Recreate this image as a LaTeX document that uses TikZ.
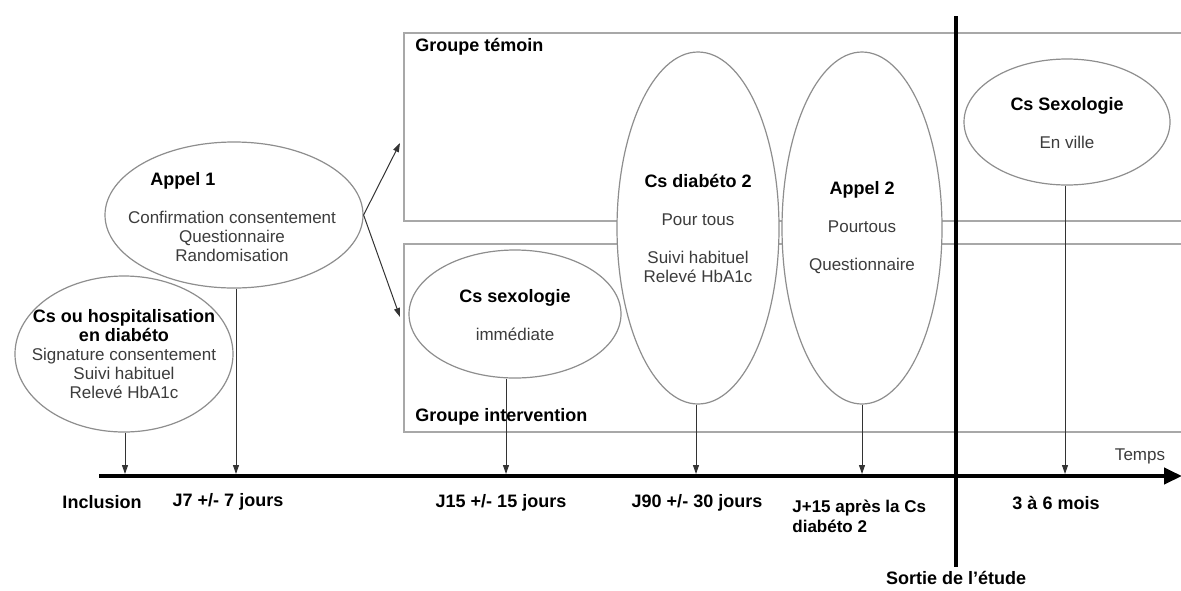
\documentclass[tikz,border=0pt]{standalone}
\usepackage{fontspec}
\setmainfont{Liberation Sans}
\usepackage{tikz}
\usetikzlibrary{calc}
\usetikzlibrary{shapes}
\usetikzlibrary{arrows.meta}

\definecolor{txtgray}{HTML}{3C3C3C}
\definecolor{linegray}{HTML}{8E8E8E}
\definecolor{boxgray}{HTML}{A8A8A8}

\newcommand{\ttl}[1]{{\fontsize{9}{10}\selectfont\bfseries\color{black}#1}}

\begin{document}
\begin{tikzpicture}[x=0.5pt, y=-0.5pt,
  evt/.style={ellipse, draw=linegray, line width=0.6pt, fill=white, inner sep=0pt},
  txt/.style={align=center, text=txtgray, inner sep=0pt, font=\fontsize{8.5}{9.5}\selectfont},
  grp/.style={draw=boxgray, line width=0.8pt, anchor=north west, inner sep=0pt},
  grplbl/.style={anchor=west, inner sep=0pt, font=\fontsize{9}{10}\selectfont\bfseries},
  when/.style={inner sep=0pt, font=\fontsize{9}{10}\selectfont\bfseries},
  tick/.style={draw=black!80, line width=0.5pt, -{Triangle[length=4.5pt,width=3pt]}},
  axis/.style={line width=2pt, -{Triangle[length=9pt,width=8pt]}}]
  \useasboundingbox (0,0) rectangle (1181,590);

  % groups
  \node[grp, minimum width=394pt, minimum height=94pt] (temoin) at (403,32) {};
  \node[grp, minimum width=394pt, minimum height=94pt] (inter) at (403,243) {};
  \node[grplbl] (temoinL) at (415,47) {Groupe témoin};
  \node[grplbl] (interL) at (415,417) {Groupe intervention};

  % time axis and end of study
  \coordinate (axS) at (99,476);
  \coordinate (axE) at (1182,476);
  \draw[axis] (axS) -- (axE);
  \coordinate (sorT) at (956,16);
  \coordinate (sorB) at (956,567);
  \draw[line width=2pt] (sorT) -- (sorB);
  \node[txt] (temps) at (1140,456) {Temps};

  % events
  \node[evt, minimum width=109pt, minimum height=78pt] (inc) at (124,354) {};
  \node[txt] (incT) at (124,354) {\ttl{Cs ou hospitalisation}\\\ttl{en diabéto}\\Signature consentement\\Suivi habituel\\Relevé HbA1c};
  \node[evt, minimum width=129pt, minimum height=73pt] (appelA) at (234,215) {};
  \node[txt] (appelAT) at (232,217) {\ttl{Appel 1}\hspace*{49pt}\\[9.5pt]Confirmation consentement\\Questionnaire\\Randomisation};
  \node[evt, minimum width=106pt, minimum height=64pt] (sexo) at (515,314) {};
  \node[txt] (sexoT) at (515,315) {\ttl{Cs sexologie}\\[9.5pt]immédiate};
  \node[evt, minimum width=81pt, minimum height=176pt] (diab) at (698,228) {};
  \node[txt] (diabT) at (698,228) {\ttl{Cs diabéto 2}\\[9.5pt]Pour tous\\[9.5pt]Suivi habituel\\Relevé HbA1c};
  \node[evt, minimum width=80pt, minimum height=176pt] (appelB) at (862,228) {};
  \node[txt] (appelBT) at (862,228) {\ttl{Appel 2}\\[9.5pt]Pourtous\\[9.5pt]Questionnaire};
  \node[evt, minimum width=103pt, minimum height=63pt] (ville) at (1067,122) {};
  \node[txt] (villeT) at (1067,123) {\ttl{Cs Sexologie}\\[9.5pt]En ville};

  % randomisation
  \coordinate (temoinIn) at (400,143);
  \coordinate (interIn) at (400,317);
  \draw[tick] (appelA.east) -- (temoinIn);
  \draw[tick] (appelA.east) -- (interIn);

  % events on the axis
  \coordinate (tInc) at (125,474);
  \coordinate (tJ7) at (236,474);
  \coordinate (tJ15) at (506,474);
  \coordinate (tJ90) at (696,474);
  \coordinate (tJ105) at (862,474);
  \coordinate (tM3) at (1065,474);
  \draw[tick] (inc.south -| tInc) -- (tInc);
  \draw[tick] (appelA.south -| tJ7) -- (tJ7);
  \draw[tick] (sexo.south -| tJ15) -- (tJ15);
  \draw[tick] (diab.south -| tJ90) -- (tJ90);
  \draw[tick] (appelB.south -| tJ105) -- (tJ105);
  \draw[tick] (ville.south -| tM3) -- (tM3);

  % dates
  \node[when] (incL) at (102,502) {Inclusion};
  \node[when] (j7L) at (228,502) {J7 +/- 7 jours};
  \node[when] (j15L) at (501,503) {J15 +/- 15 jours};
  \node[when] (j90L) at (697,503) {J90 +/- 30 jours};
  \node[when, anchor=west, align=left, font=\fontsize{8.5}{10}\selectfont\bfseries] (j105L) at (792,516) {J+15 après la Cs\\diabéto 2};
  \node[when] (m3L) at (1056,503) {3 à 6 mois};
  \node[when] (sorL) at (956,578) {Sortie de l'étude};
\end{tikzpicture}
\end{document}
